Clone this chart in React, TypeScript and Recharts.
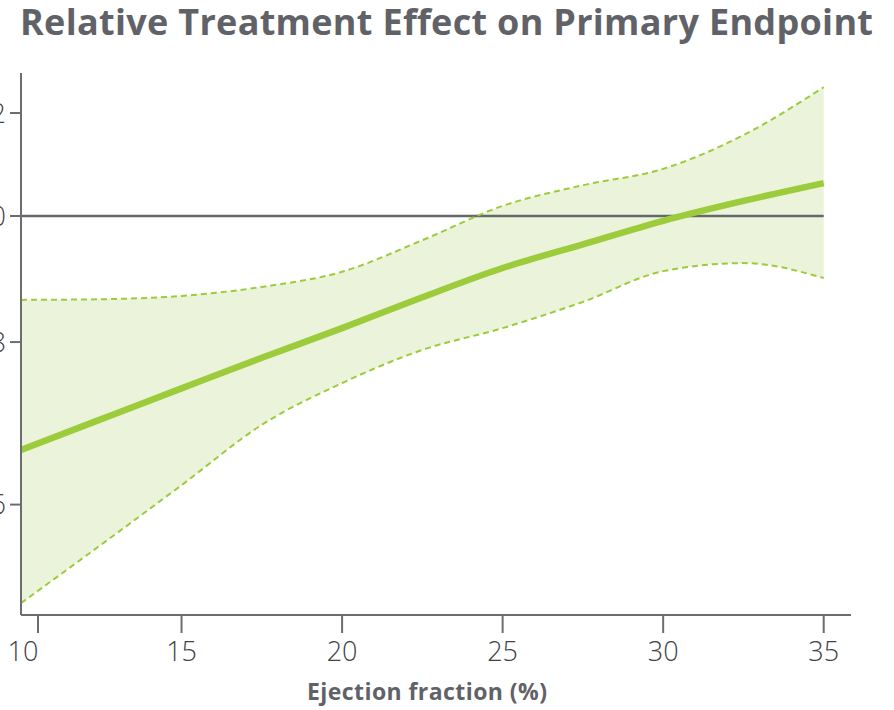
import React from 'react';
import { ComposedChart, Area, Line, XAxis, YAxis } from 'recharts';

const efValues = [10, 12.5, 15, 17.5, 20, 22.5, 25, 27.5, 30, 32.5, 35];
const hrEstimate = [0.661, 0.698, 0.737, 0.778, 0.82, 0.866, 0.912, 0.951, 0.9915, 1.027, 1.06];
const hrUpper = [0.862, 0.863, 0.868, 0.882, 0.906, 0.958, 1.018, 1.056, 1.087, 1.154, 1.256];
const hrLower = [0.504, 0.559, 0.621, 0.691, 0.744, 0.789, 0.82, 0.859, 0.907, 0.92, 0.896];
const referenceHR = 1.0;
const xTicks = [10, 15, 20, 25, 30, 35];
const yTicks = [0.6, 0.8, 1.0, 1.2];

const title = 'Relative Treatment Effect on Primary Endpoint';
const xLabel = 'Ejection fraction (%)';

const data = efValues.map((ef, i) => ({
  ef,
  est: hrEstimate[i],
  upper: hrUpper[i],
  lower: hrLower[i],
  band: [hrLower[i], hrUpper[i]],
  ref: referenceHR,
}));

const GREEN = '#9ccb3b';
const BAND = '#ebf4da';
const AXIS = '#6c6d71';
const TEXT = '#404145';
const TITLE = '#606268';
const FONT = '"Open Sans", sans-serif';

const X_TICK_SIZE = 18;
const X_TICK_MARGIN = 9;

const XTick = (props: any) => {
  const { x, y, payload, index } = props;
  const off = index === 0 ? 17 : 0;
  return (
    <g>
      <line
        x1={x + off}
        x2={x + off}
        y1={y - X_TICK_MARGIN - X_TICK_SIZE}
        y2={y - X_TICK_MARGIN}
        stroke={AXIS}
        strokeWidth={2}
      />
      <text
        x={x + (index === 0 ? 2 : 0)}
        y={y}
        dy="0.71em"
        textAnchor="middle"
        fill={TEXT}
        fontFamily={FONT}
        fontWeight={300}
        fontSize={27}
      >
        {payload.value}
      </text>
    </g>
  );
};

const YTick = (props: any) => {
  const { x, y, payload } = props;
  return (
    <text
      x={x}
      y={y}
      dy="0.355em"
      textAnchor="end"
      fill={TEXT}
      fontFamily={FONT}
      fontWeight={300}
      fontSize={27}
    >
      {Number(payload.value).toFixed(1)}
    </text>
  );
};

const XLabel = (props: any) => {
  const vb = props.viewBox || {};
  return (
    <text
      x={vb.x + vb.width / 2 - 9}
      y={vb.y + vb.height - 10}
      textAnchor="middle"
      fill={TITLE}
      fontFamily={FONT}
      fontWeight={700}
      fontSize={23}
      textLength={240}
      lengthAdjust="spacing"
    >
      {xLabel}
    </text>
  );
};

export default function App() {
  return (
    <div style={{ position: 'absolute', left: 0, top: 0, width: 894, height: 710, overflow: 'hidden', background: '#fff' }}>
      <ComposedChart
        width={894}
        height={710}
        data={data}
        margin={{ top: 73, right: 43, bottom: 0, left: 0 }}
      >
        <XAxis
          dataKey="ef"
          type="number"
          domain={[10, 35.85]}
          ticks={xTicks}
          allowDataOverflow
          height={95}
          tickSize={X_TICK_SIZE}
          tickMargin={X_TICK_MARGIN}
          tickLine={false}
          axisLine={{ stroke: AXIS, strokeWidth: 2 }}
          tick={<XTick />}
          label={<XLabel />}
        />
        <YAxis
          type="number"
          scale="log"
          domain={[0.4935, 1.288]}
          allowDataOverflow
          ticks={yTicks}
          width={21}
          tickSize={11}
          tickMargin={4}
          tickLine={{ stroke: AXIS, strokeWidth: 2 }}
          axisLine={{ stroke: AXIS, strokeWidth: 2 }}
          tick={<YTick />}
        />
        <Area
          dataKey="band"
          type="monotone"
          stroke="none"
          fill={BAND}
          fillOpacity={1}
          isAnimationActive={false}
          activeDot={false}
        />
        <Line
          dataKey="ref"
          type="linear"
          stroke="#66676b"
          strokeWidth={2.5}
          dot={false}
          activeDot={false}
          isAnimationActive={false}
        />
        <Line
          dataKey="upper"
          type="monotone"
          stroke={GREEN}
          strokeWidth={2}
          strokeDasharray="6 4"
          dot={false}
          activeDot={false}
          isAnimationActive={false}
        />
        <Line
          dataKey="lower"
          type="monotone"
          stroke={GREEN}
          strokeWidth={2}
          strokeDasharray="6 4"
          dot={false}
          activeDot={false}
          isAnimationActive={false}
        />
        <Line
          dataKey="est"
          type="monotone"
          stroke={GREEN}
          strokeWidth={6.5}
          dot={false}
          activeDot={false}
          isAnimationActive={false}
        />
      </ComposedChart>
      <svg width={894} height={60} style={{ position: 'absolute', left: 0, top: 0, pointerEvents: 'none' }}>
        <text
          x={20}
          y={35}
          fill={TITLE}
          fontFamily={FONT}
          fontWeight={700}
          fontSize={36}
          textLength={853}
          lengthAdjust="spacing"
        >
          {title}
        </text>
      </svg>
    </div>
  );
}
